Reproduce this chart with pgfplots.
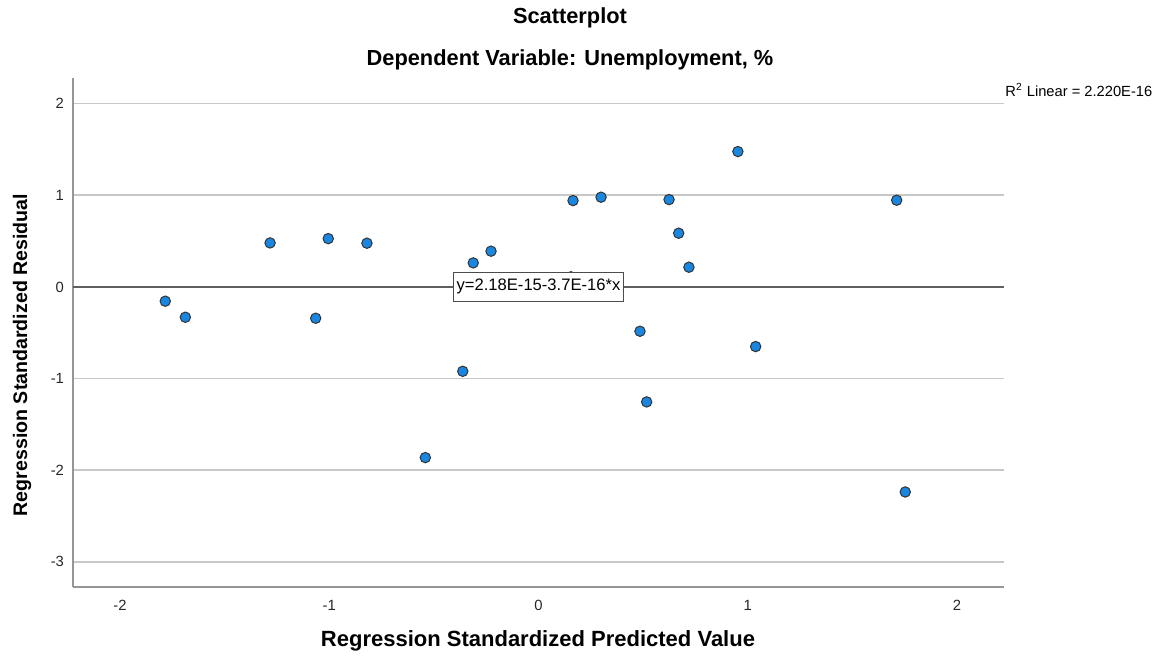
\documentclass[border=0pt]{standalone}
\usepackage{fontspec}
\setmainfont{Liberation Sans}
\usepackage{pgfplots}
\pgfplotsset{compat=1.18}
\usetikzlibrary{calc}
\definecolor{ptblue}{RGB}{25,135,225}
\definecolor{gridgray}{RGB}{200,200,200}
\definecolor{axgray}{RGB}{150,150,150}
\definecolor{fitgray}{RGB}{95,95,95}
\begin{document}
\begin{tikzpicture}[x=1pt,y=1pt]
\begin{axis}[
  scale only axis, width=465.5pt, height=254.5pt,
  xmin=-2.225, xmax=2.225, ymin=-3.275, ymax=2.28,
  xtick={-2,-1,0,1,2}, ytick={-3,-2,-1,0,1,2},
  axis x line=bottom, axis y line=left,
  axis line style={axgray, line width=0.9pt, -},
  major tick length=0pt,
  ymajorgrids, grid style={gridgray, line width=0.8pt},
  tick label style={font=\fontsize{7.4}{8}\selectfont, text=black!85},
  /pgf/number format/assume math mode=true,
  xticklabel style={yshift=-3pt},
  yticklabel style={xshift=-1pt},
  clip=false,
]
\coordinate (O) at (rel axis cs:0,0);
\coordinate (Z) at (axis cs:0,0);
\addplot[fitgray, line width=0.9pt, forget plot] coordinates {(-2.225,0) (2.225,0)};
\addplot[only marks, mark=*, mark size=2.6pt,
  mark options={fill=ptblue, draw=black!80, line width=0.5pt}] coordinates {
(-1.784,-0.156) (-1.688,-0.331) (-1.283,0.480) (-1.005,0.527) (-0.820,0.477)
(-1.065,-0.342) (-0.312,0.262) (-0.227,0.390) (0.165,0.942) (0.299,0.979)
(0.624,0.953) (0.670,0.586) (0.719,0.215) (0.953,1.477) (1.712,0.946)
(0.485,-0.484) (1.038,-0.651) (0.517,-1.255) (-0.362,-0.921) (-0.541,-1.863)
(1.753,-2.238) (0.155,0.11)
};
\end{axis}
\node[draw=black!70, fill=white, line width=0.7pt, inner xsep=1.5pt, inner ysep=3.5pt,
  font=\fontsize{8.3}{9}\selectfont] at (Z) {y=2.18E-15-3.7E-16*x};
\pgfresetboundingbox
\path[use as bounding box] ($(O)+(-36.5,-35)$) rectangle ($(O)+(549,293.5)$);
\node[font=\bfseries\fontsize{10.9}{12}\selectfont] at ($(O)+(248.5,284.5)$) {Scatterplot};
\node[font=\bfseries\fontsize{10.9}{12}\selectfont] at ($(O)+(248.5,263.5)$) {Dependent Variable: Unemployment, \%};
\node[font=\bfseries\fontsize{11}{12}\selectfont] at ($(O)+(232.5,-27)$) {Regression Standardized Predicted Value};
\node[font=\bfseries\fontsize{9.8}{11}\selectfont, rotate=90] at ($(O)+(-25.5,116)$) {Regression Standardized Residual};
\node[anchor=west, inner sep=0pt, font=\fontsize{7.35}{8}\selectfont] at ($(O)+(466,248.5)$) {R\textsuperscript{2} Linear = 2.220E-16};
\end{tikzpicture}
\end{document}
